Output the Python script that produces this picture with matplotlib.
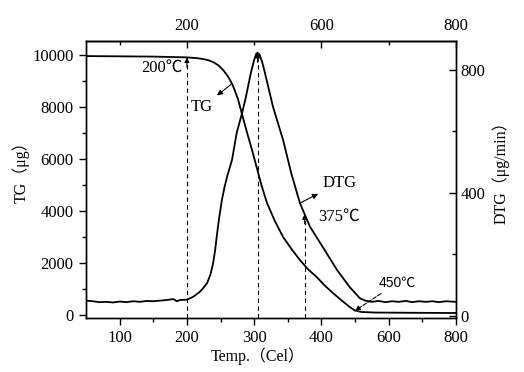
import numpy as np
import matplotlib
matplotlib.use("Agg")
import matplotlib.pyplot as plt

plt.rcParams['font.family'] = ['Liberation Serif', 'Noto Sans CJK SC']
plt.rcParams['axes.linewidth'] = 1.0

# TG curve, left axis (ug)
tg_temp = [50, 100, 150, 200, 215, 224, 232, 239, 247, 254, 261, 268, 276, 283,
           290, 297, 304, 311, 319, 331, 343, 356, 368, 380, 393, 405, 417, 430,
           442, 450, 460, 480, 520, 560, 600]
tg_val = [9960, 9950, 9940, 9910, 9880, 9846, 9800, 9730, 9600, 9420, 9180, 8850,
          8300, 7620, 6960, 6330, 5650, 4980, 4310, 3600, 3000, 2520, 2115, 1760,
          1460, 1130, 846, 560, 308, 170, 115, 95, 88, 82, 77]

# DTG curve, right axis (ug/min)
dtg_temp = [50, 60, 70, 80, 90, 100, 110, 120, 130, 140, 150, 160, 170, 180, 185,
            190, 200, 209, 219, 224, 230, 235, 239, 242, 245, 248, 252, 256, 260,
            267, 274, 282, 287, 295, 300, 303, 305, 308, 312, 316, 328, 343, 355,
            368, 383, 402, 423, 442, 457, 465, 475, 485, 495, 505, 515, 525, 535,
            545, 555, 565, 575, 585, 600]
dtg_val = [50, 48, 45, 46, 44, 47, 45, 48, 46, 49, 48, 50, 52, 55, 48, 52, 53, 62,
           78, 90, 107, 135, 172, 215, 270, 320, 377, 420, 455, 507, 595, 660, 705,
           790, 833, 852, 856, 850, 825, 790, 680, 572, 465, 367, 290, 224, 150, 94,
           58, 50, 46, 49, 45, 48, 46, 49, 45, 48, 46, 48, 45, 48, 46]

# axis ticks
bottom_ticks = [100, 200, 300, 400, 500, 600]
bottom_labels = ['100', '200', '300', '400', '600', '800']
top_ticks = [200, 400, 600]
top_labels = ['200', '600', '800']

fig = plt.figure(figsize=(5.24, 3.72), dpi=100)
ax = fig.add_axes([86 / 524, 1 - 318 / 372, 370 / 524, 277 / 372])
ax2 = ax.twinx()

ax.plot(tg_temp, tg_val, color='black', lw=1.3)
ax2.plot(dtg_temp, dtg_val, color='black', lw=1.3)

ax.set_xlim(50, 600)
ax.set_ylim(-115, 10540)
ax2.set_ylim(-6.5, 894)

ax.set_xticks(bottom_ticks, labels=bottom_labels)
ax.set_xticks([150, 250, 350, 450, 550], minor=True)
ax.set_yticks([0, 2000, 4000, 6000, 8000, 10000])
ax.set_yticks([1000, 3000, 5000, 7000, 9000], minor=True)
ax2.set_yticks([0, 400, 800])
ax2.set_yticks([200, 600], minor=True)

ax.tick_params(axis='both', which='major', direction='out', length=5, width=1,
               labelsize=12, pad=4)
ax.tick_params(axis='both', which='minor', direction='out', length=3, width=1)
ax2.tick_params(axis='y', which='major', direction='in', length=5, width=1,
                labelsize=12, pad=3)
ax2.tick_params(axis='y', which='minor', direction='in', length=3, width=1)

top = ax.secondary_xaxis('top')
top.set_xticks(top_ticks, labels=top_labels)
top.set_xticks([100, 300, 500], minor=True)
top.tick_params(which='major', direction='in', length=5, width=1, labelsize=12, pad=5)
top.tick_params(which='minor', direction='in', length=3, width=1)

ax.set_xlabel('Temp.（Cel）', fontsize=11.5)
ax.xaxis.set_label_coords(0.4635, -0.105)
ax.set_ylabel('TG（μg）', fontsize=11.5)
ax.yaxis.set_label_coords(-0.151, 0.54)
ax2.set_ylabel('DTG（μg/min）', fontsize=11.5)
ax2.yaxis.set_label_coords(1.097, 0.538)

dash = (0, (4, 3))

# dashed marker lines with small arrow heads
marks = [(ax, 200, np.interp(200, tg_temp, tg_val)),
         (ax2, 305, np.interp(305, dtg_temp, dtg_val)),
         (ax2, 375, np.interp(375, dtg_temp, dtg_val))]
for a, t, v in marks:
    lo = a.get_ylim()[0]
    a.plot([t, t], [lo, v], color='black', lw=0.8, linestyle=dash)
    a.annotate('', xy=(t, v), xytext=(0, -7), textcoords='offset points',
               arrowprops=dict(arrowstyle='-|>', color='black', lw=0.8,
                               mutation_scale=7, shrinkA=0, shrinkB=0))

ax.text(194, 9500, '200℃', ha='right', va='center', fontsize=12)
ax2.text(395, 322, '375℃', ha='left', va='center', fontsize=12)

ax.annotate('TG', xy=(267, np.interp(267, tg_temp, tg_val)), xytext=(206, 8000),
            ha='left', va='center', fontsize=12,
            arrowprops=dict(arrowstyle='<|-', color='black', lw=0.8,
                            mutation_scale=8, shrinkA=1, shrinkB=0))
ax2.annotate('DTG', xy=(368, np.interp(368, dtg_temp, dtg_val)), xytext=(401, 432),
             ha='left', va='center', fontsize=12,
             arrowprops=dict(arrowstyle='<|-', color='black', lw=0.8,
                             mutation_scale=8, shrinkA=1, shrinkB=0))
ax.annotate('450℃', xy=(450, np.interp(450, tg_temp, tg_val)), xytext=(485, 1230),
            ha='left', va='center', fontsize=10, family=['Liberation Sans', 'Noto Sans CJK SC'],
            arrowprops=dict(arrowstyle='-|>', color='black', lw=0.8, linestyle='--',
                            mutation_scale=7, shrinkA=1, shrinkB=0))

fig.savefig('out.png', dpi=100)
